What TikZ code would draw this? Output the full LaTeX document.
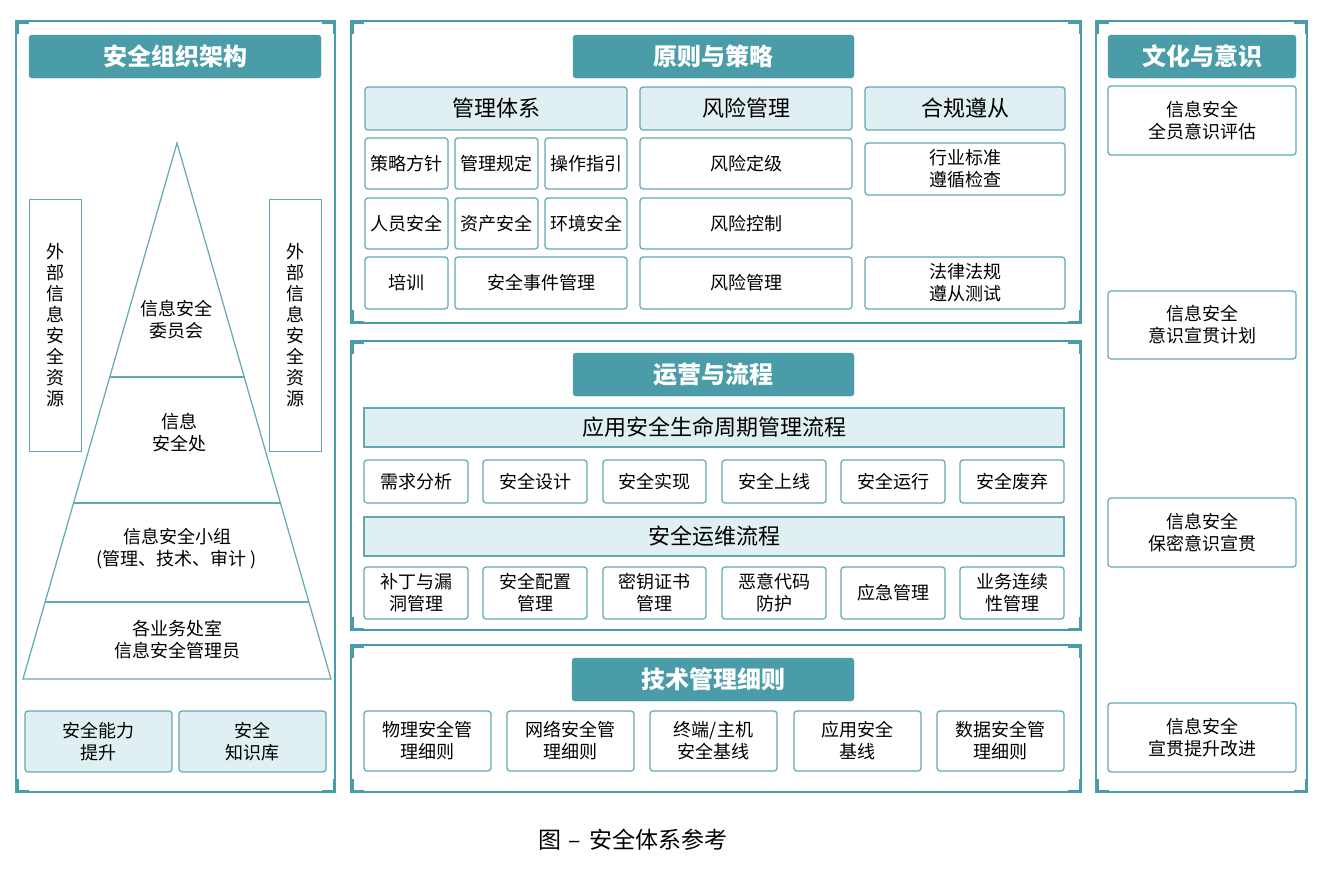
\documentclass[tikz,border=0pt]{standalone}
\usepackage{fontspec}
\setmainfont{Noto Sans CJK SC}
\usetikzlibrary{calc}
\definecolor{tealdk}{RGB}{74,156,168}
\definecolor{tealln}{RGB}{98,168,178}
\definecolor{tealfl}{RGB}{223,239,242}
\tikzset{
 hdr/.style={fill=tealdk, draw=tealdk, rounded corners=3pt, text=white, font=\fontsize{24}{28}\selectfont\bfseries, inner sep=0pt},
 cat/.style={fill=tealfl, draw=tealln, line width=1.2pt, rounded corners=3pt, font=\fontsize{22}{26}\selectfont, inner sep=0pt},
 barbox/.style={fill=tealfl, draw=tealln, line width=1.2pt, font=\fontsize{22}{26}\selectfont, inner sep=0pt},
 itm/.style={fill=white, draw=tealln, line width=1.2pt, rounded corners=3pt, font=\fontsize{18}{22}\selectfont, align=center, inner sep=0pt},
 litm/.style={itm, fill=tealfl},
 vbox/.style={draw=tealln, line width=1pt, font=\fontsize{18}{21}\selectfont, align=center, inner sep=0pt},
 pyr/.style={draw=tealln, line width=1.2pt},
 ptxt/.style={font=\fontsize{18}{22}\selectfont, align=center, inner sep=0pt},
 frame/.style={draw=tealdk, line width=1.5pt, inner sep=0pt},
 crn/.style={draw=tealdk, line width=3.5pt},
}
\newcommand\bx[7]{\node[#6, minimum width={(#4)-(#2)}, minimum height={(#5)-(#3)}] (#1) at ({((#2)+(#4))/2},{((#3)+(#5))/2}) {#7};}
\newcommand\panel[5]{%
 \node[frame, minimum width={(#4)-(#2)}, minimum height={(#5)-(#3)}] (#1) at ({((#2)+(#4))/2},{((#3)+(#5))/2}) {};
 \draw[crn] ($(#1.north west)+(1.5,14)$) -- ($(#1.north west)+(1.5,1.5)$) -- ($(#1.north west)+(14,1.5)$);
 \draw[crn] ($(#1.north east)+(-1.5,14)$) -- ($(#1.north east)+(-1.5,1.5)$) -- ($(#1.north east)+(-14,1.5)$);
 \draw[crn] ($(#1.south west)+(1.5,-14)$) -- ($(#1.south west)+(1.5,-1.5)$) -- ($(#1.south west)+(14,-1.5)$);
 \draw[crn] ($(#1.south east)+(-1.5,-14)$) -- ($(#1.south east)+(-1.5,-1.5)$) -- ($(#1.south east)+(-14,-1.5)$);
}
\begin{document}
\begin{tikzpicture}[x=1pt,y=-1pt]
\useasboundingbox[fill=white] (0,0) rectangle (1325,868);
% panels
\panel{pL}{16}{21}{335}{792}
\panel{pM1}{351}{21}{1081}{323}
\panel{pM2}{351}{341}{1081}{630}
\panel{pM3}{351}{645}{1081}{792}
\panel{pR}{1096}{21}{1307}{792}
% headers
\bx{hL}{29}{35}{321}{78}{hdr}{安全组织架构}
\bx{hM1}{573}{35}{854}{78}{hdr}{原则与策略}
\bx{hM2}{573}{353}{854}{396}{hdr}{运营与流程}
\bx{hM3}{572}{658}{854}{701}{hdr}{技术管理细则}
\bx{hR}{1108}{35}{1296}{78}{hdr}{文化与意识}
% left panel
\coordinate (apex) at (177,143);
\coordinate (bl) at (23,679);
\coordinate (br) at (331,679);
\draw[pyr] (apex) -- (bl) -- (br) -- cycle;
\foreach \t in {0.4366,0.6716,0.8563} \draw[pyr] ($(apex)!\t!(bl)$) -- ($(apex)!\t!(br)$);
\node[ptxt] (wyh) at (176,320) {信息安全\\委员会};
\node[ptxt] (aqc) at (179,433) {信息\\安全处};
\node[ptxt] (xz) at (177,549) {信息安全小组\\(管理、技术、审计 )};
\node[ptxt] (gly) at (177,640) {各业务处室\\信息安全管理员};
\bx{extl}{29}{199}{81}{451}{vbox}{外\\部\\信\\息\\安\\全\\资\\源}
\bx{extr}{269}{199}{321}{451}{vbox}{外\\部\\信\\息\\安\\全\\资\\源}
\bx{nlts}{25}{711}{172}{772}{litm}{安全能力\\提升}
\bx{zsk}{179}{711}{326}{772}{litm}{安全\\知识库}
% middle top
\bx{glt}{365}{87}{627}{130}{cat}{管理体系}
\bx{fxgl}{640}{87}{852}{130}{cat}{风险管理}
\bx{hgzc}{865}{87}{1065}{130}{cat}{合规遵从}
\bx{clfz}{365}{138}{448}{189}{itm}{策略方针}
\bx{glgd}{455}{138}{538}{189}{itm}{管理规定}
\bx{czzy}{545}{138}{627}{189}{itm}{操作指引}
\bx{fxdj}{640}{138}{852}{189}{itm}{风险定级}
\bx{hybz}{865}{143}{1065}{195}{itm}{行业标准\\遵循检查}
\bx{ryaq}{365}{198}{448}{249}{itm}{人员安全}
\bx{zcaq}{455}{198}{538}{249}{itm}{资产安全}
\bx{hjaq}{545}{198}{627}{249}{itm}{环境安全}
\bx{fxkz}{640}{198}{852}{249}{itm}{风险控制}
\bx{px}{365}{257}{448}{309}{itm}{培训}
\bx{aqsj}{455}{257}{627}{309}{itm}{安全事件管理}
\bx{fxgl2}{640}{257}{852}{309}{itm}{风险管理}
\bx{flfg}{865}{257}{1065}{309}{itm}{法律法规\\遵从测试}
% middle second
\bx{smzq}{364}{408}{1064}{447}{barbox}{应用安全生命周期管理流程}
\bx{s1}{364}{460}{468}{503}{itm}{需求分析}
\bx{s2}{483}{460}{587}{503}{itm}{安全设计}
\bx{s3}{603}{460}{706}{503}{itm}{安全实现}
\bx{s4}{722}{460}{826}{503}{itm}{安全上线}
\bx{s5}{841}{460}{945}{503}{itm}{安全运行}
\bx{s6}{960}{460}{1064}{503}{itm}{安全废弃}
\bx{yw}{364}{517}{1064}{556}{barbox}{安全运维流程}
\bx{o1}{364}{567}{468}{619}{itm}{补丁与漏\\洞管理}
\bx{o2}{483}{567}{587}{619}{itm}{安全配置\\管理}
\bx{o3}{603}{567}{706}{619}{itm}{密钥证书\\管理}
\bx{o4}{722}{567}{826}{619}{itm}{恶意代码\\防护}
\bx{o5}{841}{567}{945}{619}{itm}{应急管理}
\bx{o6}{960}{567}{1064}{619}{itm}{业务连续\\性管理}
% middle third
\bx{t1}{364}{711}{491}{771}{itm}{物理安全管\\理细则}
\bx{t2}{507}{711}{634}{771}{itm}{网络安全管\\理细则}
\bx{t3}{650}{711}{777}{771}{itm}{终端/主机\\安全基线}
\bx{t4}{794}{711}{921}{771}{itm}{应用安全\\基线}
\bx{t5}{937}{711}{1064}{771}{itm}{数据安全管\\理细则}
% right panel
\bx{r1}{1108}{86}{1296}{155}{itm}{信息安全\\全员意识评估}
\bx{r2}{1108}{291}{1296}{359}{itm}{信息安全\\意识宣贯计划}
\bx{r3}{1108}{498}{1296}{567}{itm}{信息安全\\保密意识宣贯}
\bx{r4}{1108}{703}{1296}{772}{itm}{信息安全\\宣贯提升改进}
% caption
\node[font=\fontsize{23}{27}\selectfont, inner sep=0pt] (cap) at (633,840) {图\hspace{7pt}–\hspace{8pt}安全体系参考};
\end{tikzpicture}
\end{document}
